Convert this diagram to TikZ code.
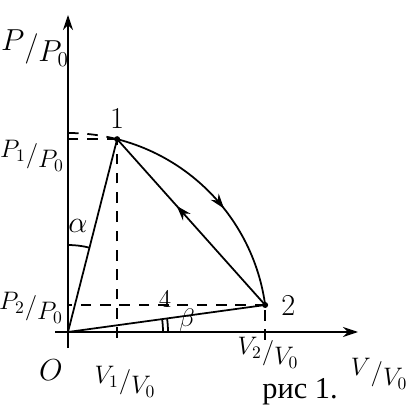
\documentclass[tikz,border=0pt]{standalone}
\usepackage{amsmath,amsfonts}
\usepackage{fontspec}
\newfontfamily\cyrfont{Liberation Serif}
\usepackage{tikz}
\usetikzlibrary{arrows.meta, calc, decorations.markings}
\newcommand{\slfr}[2]{\ensuremath{\raisebox{0.45ex}{$#1$}/\raisebox{-0.45ex}{$#2$}}}

\begin{document}
\begin{tikzpicture}[
  x=0.02cm, y=0.02cm,
  axis/.style={line width=1pt, -{Stealth[length=3mm, width=2mm]}},
  path/.style={line width=1pt},
  proj/.style={line width=1pt, dash pattern=on 6pt off 5pt},
  ang/.style={line width=1pt},
  lbl/.style={font=\Large, inner sep=1pt},
  big/.style={font=\LARGE, inner sep=1pt},
  midarr/.style={postaction={decorate}, decoration={markings,
      mark=at position #1 with {\arrow{Stealth[length=3mm, width=2mm]}}}},
]
\useasboundingbox (-68,-86) rectangle (343,332);
% ---- points
\coordinate (O) at (0,0);
\coordinate (top) at (90:199);
\coordinate (p1) at (75.7:199);
\coordinate (p2) at (7.8:199);
\coordinate (ytop) at (0,317);
\coordinate (ybot) at (0,-16);
\coordinate (xend) at (290,0);
\coordinate (xbeg) at (-13,0);

% ---- axes
\draw[axis] (ybot) -- (ytop);
\draw[axis] (xbeg) -- (xend);

% ---- projections
\draw[proj] (p1) -- (p1 -| O);
\draw[proj] ($(p1 |- O)+(0,-6)$) -- (p1);
\draw[proj] (p2) -- (p2 -| O);
\draw[proj] ($(p2 |- O)+(0,-8)$) -- (p2);

% ---- process
\draw[proj] (top) arc[start angle=90, end angle=75.7, radius=199];
\draw[path, midarr=0.55] (p1) arc[start angle=75.7, end angle=7.8, radius=199];
\draw[path, midarr=0.6] (p2) -- (p1);
\draw[path] (O) -- (p1);
\draw[path] (O) -- (p2);
\fill (p1) circle (3);
\fill (p2) circle (3);

% ---- angles
\draw[ang] (90:87) arc[start angle=90, end angle=75.7, radius=87];
\draw[ang] (0:95) arc[start angle=0, end angle=7.8, radius=95];
\draw[ang] (0:100) arc[start angle=0, end angle=7.8, radius=100];

% ---- labels
\node[big] (lP) at (-33,284) {\slfr{P}{P_0}};
\node[lbl] (lP1) at (-36,176) {\slfr{P_1}{P_0}};
\node[lbl] (lP2) at (-37,24) {\slfr{P_2}{P_0}};
\node[big] (lO) at (-17,-38) {$O$};
\node[lbl] (lV1) at (57,-50) {\slfr{V_1}{V_0}};
\node[lbl] (lV2) at (200,-21) {\slfr{V_2}{V_0}};
\node[big] (fig) at (232,-60) {\cyrfont рис 1.};
\node[lbl] (lV) at (311,-42) {\slfr{V}{V_0}};
\node[big, above=5pt] (n1) at (p1) {1};
\node[big, right=8pt] (n2) at (p2) {2};
\node[big] (la) at (10,106) {$\alpha$};
\node[lbl] (lb) at (119,12) {$\beta$};
\node[lbl] (l4) at (97,33) {4};
\end{tikzpicture}
\end{document}
